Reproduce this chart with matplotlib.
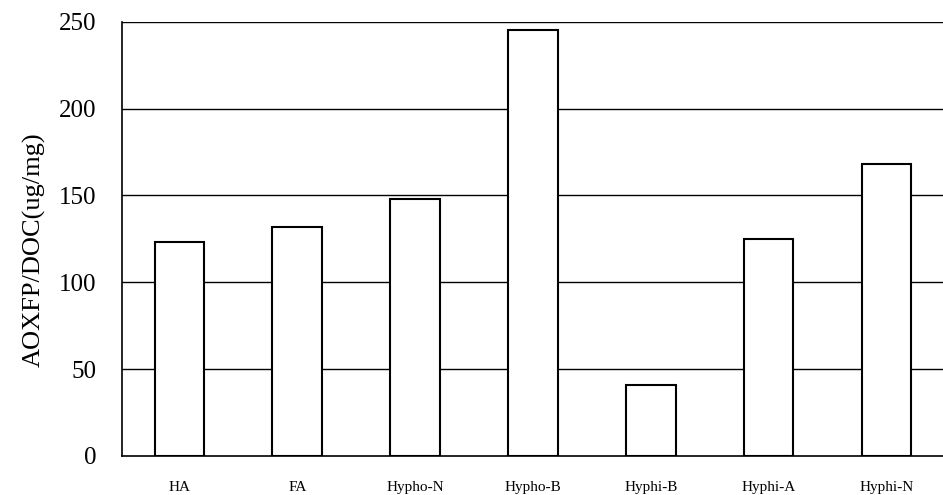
import matplotlib.pyplot as plt
import numpy as np

plt.rcParams['font.family'] = ['Liberation Serif', 'DejaVu Serif']

categories = ['HA', 'FA', 'Hypho-N', 'Hypho-B', 'Hyphi-B', 'Hyphi-A', 'Hyphi-N']
values = [123, 132, 148, 245, 41, 125, 168]
yticks = [0, 50, 100, 150, 200, 250]

fig = plt.figure(figsize=(9.43, 4.95), dpi=100)
ax = fig.add_axes([0.129, 0.079, 0.871, 0.877])

x = np.arange(len(categories))
ax.bar(x, values, width=0.42, color='white', edgecolor='black', linewidth=1.5, zorder=3)

for t in yticks[1:]:
    ax.axhline(t, color='black', linewidth=1.0, zorder=1)

ax.set_ylim(0, 250)
ax.set_xlim(-0.49, 6.48)
ax.set_yticks(yticks)
ax.set_yticklabels([str(t) for t in yticks], fontsize=18)
ax.set_xticks(x)
ax.set_xticklabels(categories, fontsize=11)
ax.tick_params(axis='y', length=0, pad=18)
ax.tick_params(axis='x', length=0, pad=18)
ax.set_ylabel('AOXFP/DOC(ug/mg)', fontsize=19)
ax.yaxis.set_label_coords(-0.092, 0.475)

ax.spines['right'].set_visible(False)
ax.spines['top'].set_visible(False)
ax.spines['left'].set_linewidth(1.2)
ax.spines['bottom'].set_linewidth(1.2)

fig.savefig('out.png', dpi=100)
